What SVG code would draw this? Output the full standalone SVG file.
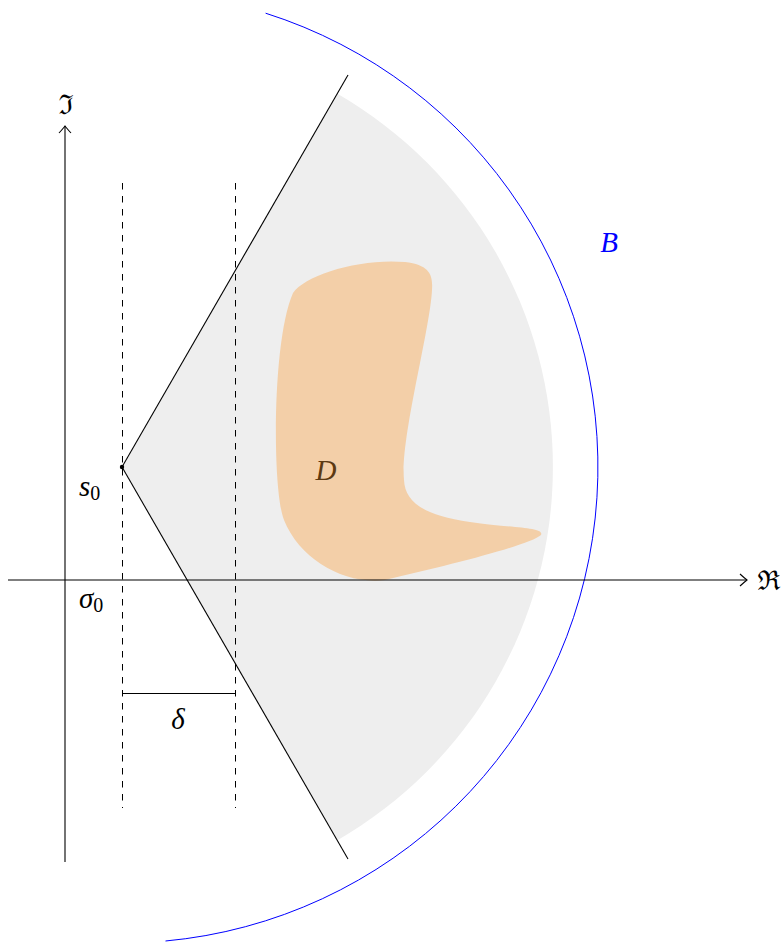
<svg xmlns="http://www.w3.org/2000/svg" width="782" height="942" viewBox="0 0 782 942">
<style>
.ln{stroke:#000;stroke-width:1.1;fill:none}
.dash{stroke:#000;stroke-width:1;fill:none;stroke-dasharray:6.5 6.5}
.math{font-family:"Liberation Serif","DejaVu Serif",serif;font-style:italic;font-size:29px;fill:#000}
.sub{font-style:normal;font-size:20px}
.frak{font-family:"DejaVu Serif","Noto Sans",serif;font-size:27px;fill:#000}
</style>
<defs>
<marker id="arr" markerUnits="userSpaceOnUse" markerWidth="14" markerHeight="14" refX="0" refY="0" viewBox="-8 -7 10 14" orient="auto" overflow="visible">
<path d="M -7,-6 Q -2,-1.5 0,0 Q -2,1.5 -7,6" stroke="#000" stroke-width="1.1" fill="none"/>
</marker>
</defs>
<g id="sector">
<path d="M 122,467 L 337.5,93.8 A 431,431 0 0 1 337.5,840.2 Z" fill="#eeeeee"/>
</g>
<g id="domainD">
<path d="M 293,293 C 305,275 360,258 405,262 C 430,265 433,275 432,290 C 430,330 400,440 404,480 C 405,500 420,515 470,522 C 510,528 545,527 541,535 C 530,545 450,565 385,580 C 345,585 300,560 284,520 C 272,490 272,340 293,293 Z" fill="#f3cfa8"/>
<text class="math" x="326" y="480" text-anchor="middle" style="fill:#5c3a12">D</text>
</g>
<g id="circleB">
<path d="M 265.6,13.2 A 476,476 0 0 1 165.5,941" fill="none" stroke="#0000ff" stroke-width="1"/>
<text class="math" x="609" y="252" text-anchor="middle" style="fill:#0000ff">B</text>
</g>
<g id="connectors">
<line class="ln" x1="8" y1="580" x2="747" y2="580" marker-end="url(#arr)"/>
<line class="ln" x1="65" y1="862" x2="65" y2="126" marker-end="url(#arr)"/>
<line class="dash" x1="122.5" y1="183" x2="122.5" y2="808"/>
<line class="dash" x1="235.5" y1="183" x2="235.5" y2="808"/>
<line class="ln" x1="122" y1="693.5" x2="235" y2="693.5"/>
<line class="ln" x1="122" y1="467" x2="348" y2="75"/>
<line class="ln" x1="122" y1="467" x2="348" y2="859"/>
</g>
<g id="s0">
<circle cx="122" cy="467" r="2.2" fill="#000"/>
<text class="math" x="79" y="496">s<tspan class="sub" dy="4">0</tspan></text>
</g>
<g id="sigma0">
<text class="math" x="79" y="608">σ<tspan class="sub" dy="4">0</tspan></text>
</g>
<g id="delta">
<text class="math" x="178" y="729" text-anchor="middle">δ</text>
</g>
<g id="labels">
<text class="frak" x="769" y="590" text-anchor="middle">ℜ</text>
<text class="frak" x="66" y="114" text-anchor="middle">ℑ</text>
</g>
</svg>
